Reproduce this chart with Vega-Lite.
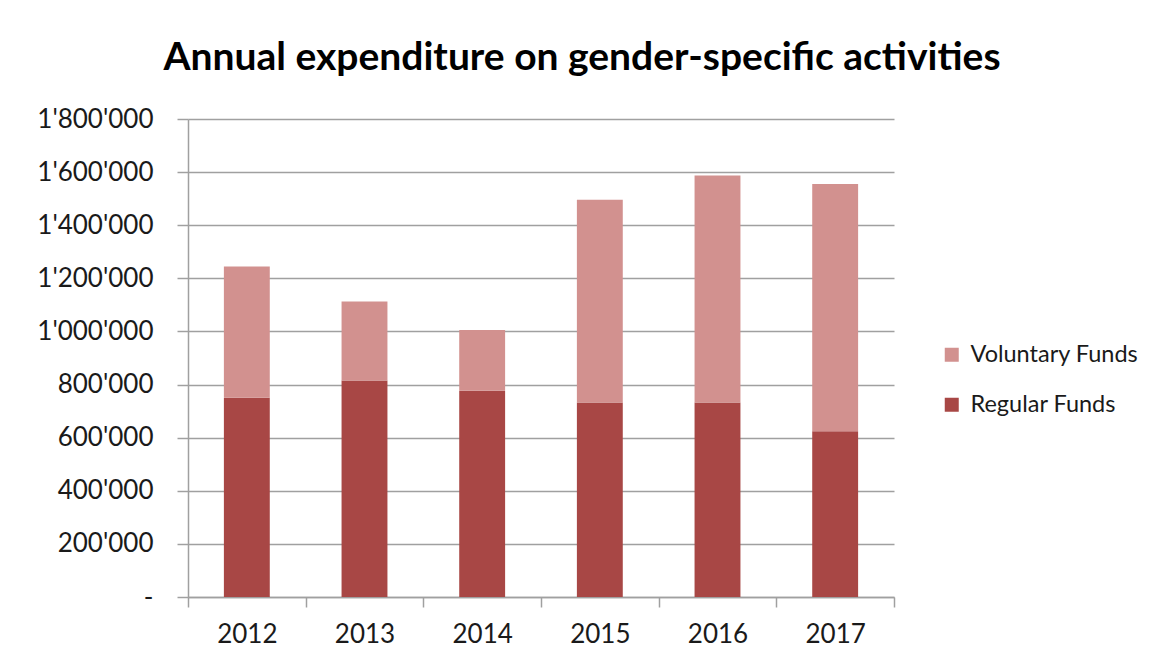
{
  "$schema": "https://vega.github.io/schema/vega-lite/v6.json",
  "width": 706,
  "height": 478,
  "autosize": {"type": "none"},
  "padding": {"left": 188, "top": 119, "right": 259, "bottom": 71},
  "background": "white",
  "title": {
    "text": "Annual expenditure on gender-specific activities",
    "font": "Lato",
    "fontSize": 39,
    "fontWeight": "bold",
    "color": "#000000",
    "anchor": "middle",
    "frame": "group",
    "dx": 41,
    "offset": 28
  },
  "data": {
    "values": [
      {"year": "2012", "series": "Regular Funds", "amount": 750000},
      {"year": "2012", "series": "Voluntary Funds", "amount": 495000},
      {"year": "2013", "series": "Regular Funds", "amount": 815000},
      {"year": "2013", "series": "Voluntary Funds", "amount": 298000},
      {"year": "2014", "series": "Regular Funds", "amount": 777000},
      {"year": "2014", "series": "Voluntary Funds", "amount": 228000},
      {"year": "2015", "series": "Regular Funds", "amount": 732000},
      {"year": "2015", "series": "Voluntary Funds", "amount": 764000},
      {"year": "2016", "series": "Regular Funds", "amount": 732000},
      {"year": "2016", "series": "Voluntary Funds", "amount": 855000},
      {"year": "2017", "series": "Regular Funds", "amount": 624000},
      {"year": "2017", "series": "Voluntary Funds", "amount": 931000}
    ]
  },
  "mark": {"type": "bar", "width": {"band": 0.39}},
  "encoding": {
    "x": {
      "field": "year",
      "type": "nominal",
      "scale": {"paddingInner": 0, "paddingOuter": 0},
      "axis": {
        "title": null,
        "labelAngle": 0,
        "tickBand": "extent",
        "tickSize": 10,
        "tickColor": "#A0A0A0",
        "tickWidth": 1.5,
        "domainColor": "#A0A0A0",
        "domainWidth": 1.5,
        "labelFont": "Lato",
        "labelFontSize": 26,
        "labelColor": "#1a1a1a",
        "labelPadding": 14,
        "grid": false
      }
    },
    "y": {
      "field": "amount",
      "type": "quantitative",
      "stack": "zero",
      "scale": {"domain": [0, 1800000], "nice": false},
      "axis": {
        "title": null,
        "values": [0, 200000, 400000, 600000, 800000, 1000000, 1200000, 1400000, 1600000, 1800000],
        "format": ",d",
        "labelExpr": "datum.value == 0 ? '-' : datum.label",
        "tickSize": 11,
        "tickColor": "#A0A0A0",
        "tickWidth": 1.5,
        "domainColor": "#A0A0A0",
        "domainWidth": 1.5,
        "grid": true,
        "gridColor": "#A0A0A0",
        "gridWidth": 1.5,
        "labelFont": "Lato",
        "labelFontSize": 26,
        "labelColor": "#1a1a1a",
        "labelPadding": 24
      }
    },
    "color": {
      "field": "series",
      "type": "nominal",
      "scale": {"domain": ["Voluntary Funds", "Regular Funds"], "range": ["#D2918F", "#A84745"]},
      "legend": {
        "title": null,
        "orient": "none",
        "legendX": 752,
        "legendY": 224,
        "padding": 0,
        "symbolType": "square",
        "symbolSize": 196,
        "symbolStrokeWidth": 0,
        "labelFont": "Lato",
        "labelFontSize": 23.5,
        "labelColor": "#1a1a1a",
        "labelOffset": 7,
        "labelLimit": 400,
        "rowPadding": 25
      }
    },
    "order": {"field": "series", "sort": "ascending"}
  },
  "config": {
    "locale": {"number": {"decimal": ".", "thousands": "'", "grouping": [3], "currency": ["", ""]}},
    "view": {"stroke": null}
  }
}
